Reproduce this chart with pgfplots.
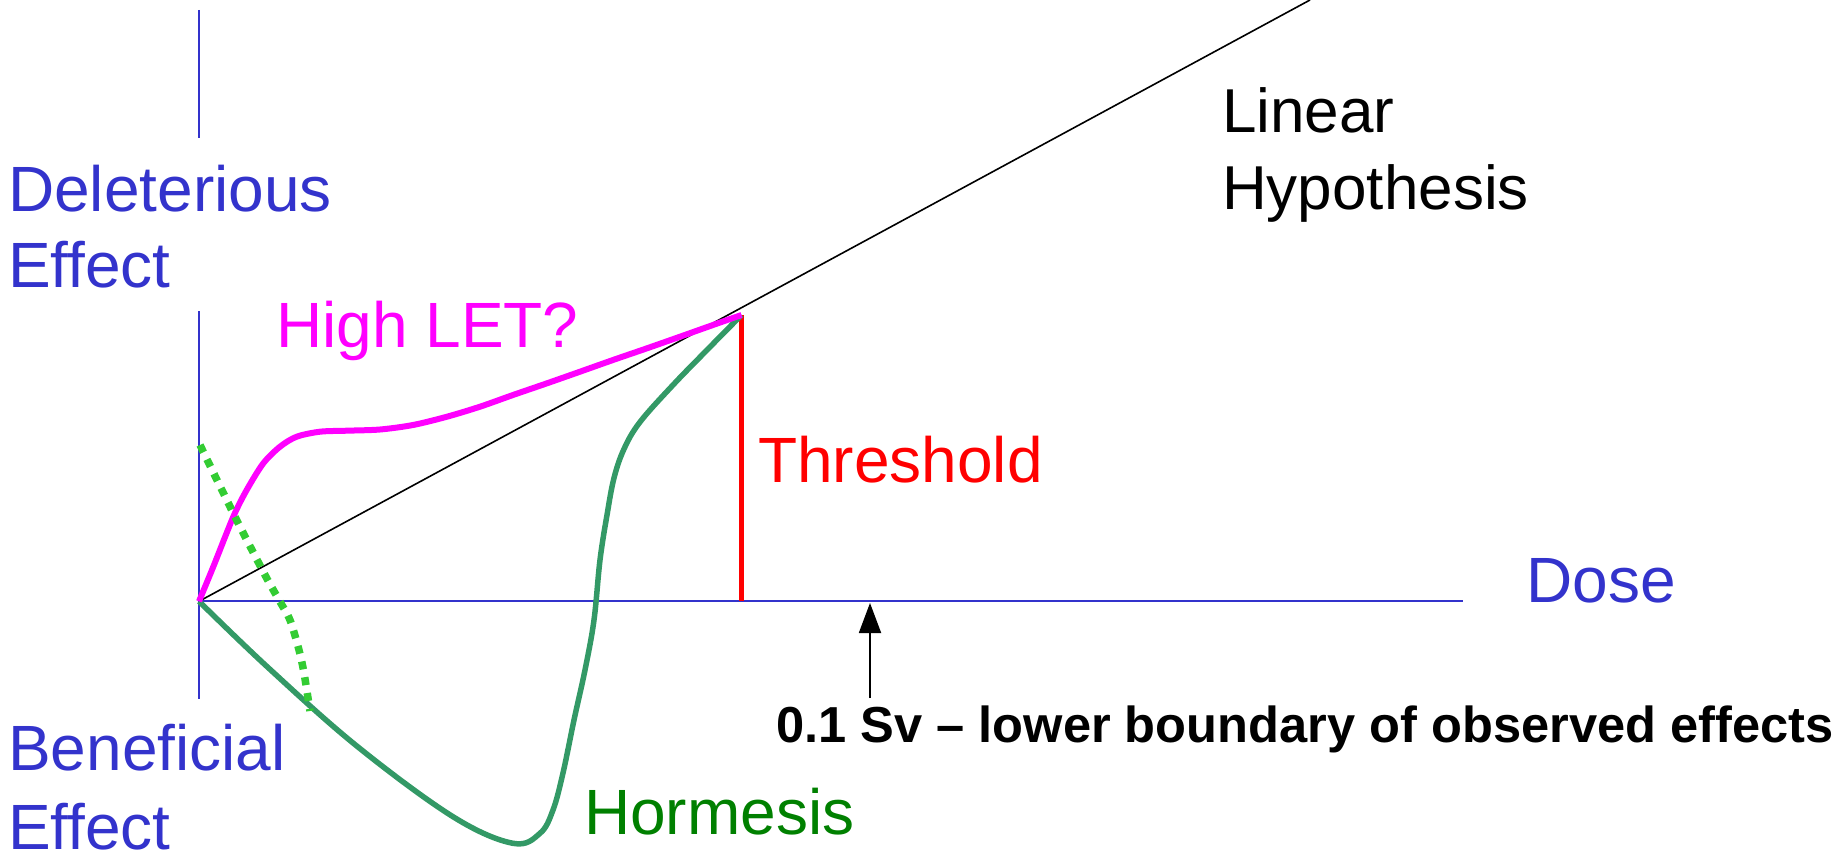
\documentclass[border=0pt]{standalone}
\usepackage{fontspec}
\setmainfont{Liberation Sans}
\usepackage{pgfplots}
\pgfplotsset{compat=1.18}
\usetikzlibrary{arrows.meta}
\definecolor{axblue}{HTML}{3333CC}
\definecolor{hormcurve}{HTML}{339966}
\definecolor{hormtext}{HTML}{008000}
\definecolor{dotgreen}{HTML}{33CC33}
\definecolor{letpink}{HTML}{FF00FF}
\begin{document}
\begin{tikzpicture}
\begin{axis}[width=1845bp,height=851bp,scale only axis,hide axis,
  xmin=0,xmax=1845,ymin=0,ymax=851,y dir=reverse,clip=false]
% axes
\addplot[axblue,line width=2bp] coordinates {(199,10) (199,138)};
\addplot[axblue,line width=2bp] coordinates {(199,311) (199,699)};
\addplot[axblue,line width=2bp] coordinates {(199,601.3) (1463,601.3)};
% linear hypothesis
\addplot[black,line width=1.6bp] coordinates {(199,601.3) (1310,0)};
% threshold
\addplot[red,line width=5.5bp] coordinates {(741.5,315) (741.5,601.3)};
% hormesis
\addplot[hormcurve,line width=5.5bp,smooth,tension=0.6,line join=round] coordinates {
(199,601.3) (268,667.5) (357,746.2) (453,816.7) (513,843.3) (540,833.3)
(553,810) (563,773) (574,720) (585,670) (594,620) (600,560) (607,515)
(614,478) (624,449) (640,422) (673,385) (707,350) (741.5,315)};
% high LET
\addplot[letpink,line width=6bp,smooth,tension=0.5,line join=round] coordinates {
(199,601.3) (213.3,566.7) (233.3,516.7) (246.7,490) (263.3,463.3) (280,446.7)
(296.7,436.7) (320,431.7) (347,430.7) (380,429.5) (413,425) (447,416.7)
(480,406.7) (513,395) (547,383.3) (580,371.7) (613,360) (647,348.3)
(680,336.7) (713,325) (741.5,315)};
% dotted green
\addplot[dotgreen,line width=7.5bp,smooth,dash pattern=on 8bp off 8bp] coordinates {
(200,445) (235,516.7) (265,575) (280,601.7) (290,620) (299,650) (304,673) (310,711)};
% arrow
\addplot[black,line width=1.8bp,-{Triangle[length=30bp,width=22bp]}] coordinates {(870,698) (870,603)};
% labels
\node[anchor=base west,inner sep=0,text=axblue,font=\fontsize{64bp}{76bp}\selectfont] at (axis cs:8,211.7) {Deleterious};
\node[anchor=base west,inner sep=0,text=axblue,font=\fontsize{64bp}{76bp}\selectfont] at (axis cs:8,287.6) {Effect};
\node[anchor=base west,inner sep=0,text=axblue,font=\fontsize{64bp}{76bp}\selectfont] at (axis cs:8,770.6) {Beneficial};
\node[anchor=base west,inner sep=0,text=axblue,font=\fontsize{64bp}{76bp}\selectfont] at (axis cs:8,849) {Effect};
\node[anchor=base west,inner sep=0,text=axblue,font=\fontsize{64bp}{76bp}\selectfont] at (axis cs:1526,602) {Dose};
\node[anchor=base west,inner sep=0,text=letpink,font=\fontsize{64bp}{76bp}\selectfont] at (axis cs:276,347.3) {High LET?};
\node[anchor=base west,inner sep=0,text=red,font=\fontsize{64bp}{76bp}\selectfont] at (axis cs:758,482.7) {Threshold};
\node[anchor=base west,inner sep=0,text=hormtext,font=\fontsize{64bp}{76bp}\selectfont] at (axis cs:584,834.5) {Hormesis};
\node[anchor=base west,inner sep=0,text=black,font=\fontsize{62bp}{74bp}\selectfont] at (axis cs:1222,133) {Linear};
\node[anchor=base west,inner sep=0,text=black,font=\fontsize{62bp}{74bp}\selectfont] at (axis cs:1222,209.5) {Hypothesis};
\node[anchor=base west,inner sep=0,text=black,font=\bfseries\fontsize{50.6bp}{60bp}\selectfont] at (axis cs:776,742) {0.1 Sv – lower boundary of observed effects};
\end{axis}
\pgfresetboundingbox
\path[use as bounding box] (current axis.south west) rectangle (current axis.north east);
\end{tikzpicture}
\end{document}
